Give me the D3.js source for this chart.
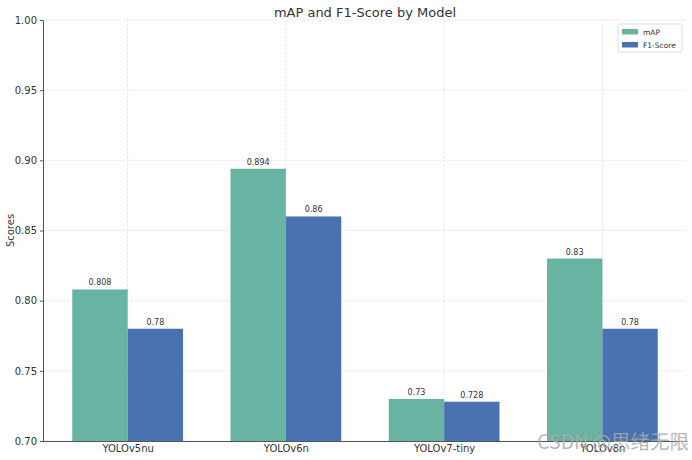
<!DOCTYPE html>
<html>
<head>
<meta charset="utf-8">
<script src="https://cdn.jsdelivr.net/npm/d3@7"></script>
<style>
  body { margin: 0; background: #fff; }
  text { font-family: "DejaVu Sans", sans-serif; }
</style>
</head>
<body>
<svg id="chart"></svg>
<script>
// data
var models = ["YOLOv5nu", "YOLOv6n", "YOLOv7-tiny", "YOLOv8n"];
var mapScores = [0.808, 0.894, 0.73, 0.83];
var f1Scores = [0.78, 0.86, 0.728, 0.78];
var seriesNames = ["mAP", "F1-Score"];
var seriesColors = ["#69b3a2", "#4a72b0"];
var yTicks = [0.70, 0.75, 0.80, 0.85, 0.90, 0.95, 1.00];

var width = 692, height = 460;
var margin = {top: 20, right: 5, bottom: 19, left: 43};
var w = width - margin.left - margin.right;
var h = height - margin.top - margin.bottom;
var barW = 0.35;

var svg = d3.select("#chart").attr("width", width).attr("height", height);
var g = svg.append("g").attr("transform", "translate(" + margin.left + "," + margin.top + ")");

// matplotlib style: bars at i-0.175 / i+0.175, 5% margins
var x = d3.scaleLinear().domain([-0.535, 3.535]).range([0, w]);
var y = d3.scaleLinear().domain([0.70, 1.00]).range([h, 0]);

// grid
g.selectAll(".hgrid").data(yTicks).enter().append("line")
  .attr("x1", 0).attr("x2", w)
  .attr("y1", function(d) { return y(d); }).attr("y2", function(d) { return y(d); })
  .attr("stroke", "#e0e0e0").attr("stroke-width", 0.8).attr("stroke-dasharray", "2.5,1.5");
g.selectAll(".vgrid").data(models).enter().append("line")
  .attr("x1", function(d, i) { return x(i); }).attr("x2", function(d, i) { return x(i); })
  .attr("y1", 0).attr("y2", h)
  .attr("stroke", "#e0e0e0").attr("stroke-width", 0.8).attr("stroke-dasharray", "2.5,1.5");

var series = [mapScores, f1Scores];
series.forEach(function(vals, s) {
  var off = s === 0 ? -barW : 0;
  g.selectAll(".bar" + s).data(vals).enter().append("rect")
    .attr("x", function(d, i) { return x(i + off); })
    .attr("width", x(barW) - x(0))
    .attr("y", function(d) { return y(d); })
    .attr("height", function(d) { return h - y(d); })
    .attr("fill", seriesColors[s]);
  g.selectAll(".lbl" + s).data(vals).enter().append("text")
    .attr("x", function(d, i) { return x(i + off + barW / 2); })
    .attr("y", function(d) { return y(d) - 4; })
    .attr("text-anchor", "middle")
    .attr("font-size", 8).attr("fill", "#333")
    .text(function(d) { return d; });
});

// axes
var yAxis = g.append("g")
  .call(d3.axisLeft(y).tickValues(yTicks).tickFormat(d3.format(".2f")).tickSize(3).tickPadding(3));
var xAxis = g.append("g").attr("transform", "translate(0," + h + ")")
  .call(d3.axisBottom(x).tickValues([0, 1, 2, 3]).tickFormat(function(d) { return models[d]; }).tickSize(0).tickPadding(4));
[yAxis, xAxis].forEach(function(a) {
  a.select(".domain").attr("stroke", "#555").attr("stroke-width", 1);
  a.selectAll(".tick line").attr("stroke", "#555");
  a.selectAll(".tick text").attr("font-size", 10).attr("fill", "#333")
    .style("font-family", "DejaVu Sans, sans-serif");
});

// title, axis label
svg.append("text").attr("x", margin.left + w / 2).attr("y", 17)
  .attr("text-anchor", "middle").attr("font-size", 13).attr("fill", "#333")
  .text("mAP and F1-Score by Model");
svg.append("text").attr("transform", "translate(14," + (margin.top + h / 2) + ") rotate(-90)")
  .attr("text-anchor", "middle").attr("font-size", 10).attr("fill", "#333")
  .text("Scores");

// legend
var lg = svg.append("g").attr("transform", "translate(618,24)");
lg.append("rect").attr("width", 64).attr("height", 28).attr("rx", 2)
  .attr("fill", "#fff").attr("fill-opacity", 0.85).attr("stroke", "#ddd");
seriesNames.forEach(function(n, i) {
  lg.append("rect").attr("x", 4).attr("y", 5 + i * 13).attr("width", 16).attr("height", 5.5)
    .attr("fill", seriesColors[i]);
  lg.append("text").attr("x", 25).attr("y", 11 + i * 13).attr("font-size", 7.5).attr("fill", "#333")
    .text(n);
});

// watermark (sits over the last tick label, as in the source image)
svg.append("text").attr("x", 689).attr("y", 449).attr("text-anchor", "end")
  .attr("font-size", 19.5).attr("fill", "#aaa").attr("fill-opacity", 0.85)
  .style("font-family", "'Noto Sans CJK SC', sans-serif")
  .text("CSDN @思绪无限");
</script>
</body>
</html>
